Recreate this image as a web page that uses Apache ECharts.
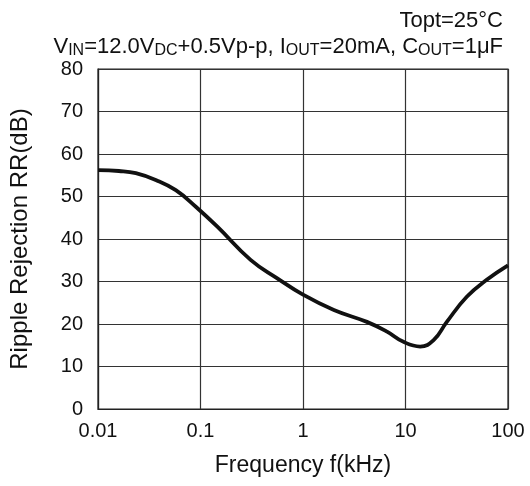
<!DOCTYPE html>
<html>
<head>
<meta charset="utf-8">
<script src="https://cdn.jsdelivr.net/npm/echarts@6/dist/echarts.min.js"></script>
<style>
  html, body { margin: 0; padding: 0; background: #fff; }
  #chart { width: 530px; height: 486px; }
</style>
</head>
<body>
<div id="chart"></div>
<script>
// Ripple rejection vs. frequency
const freqKHz = [0.01, 0.016, 0.0234, 0.0366, 0.0574, 0.09, 0.146, 0.308, 0.561, 1.0, 2.0, 4.2, 6.6, 9.55, 13.9, 18.8, 25.3, 39.6, 62, 100];
const rippleDb = [56.2, 56.0, 55.5, 53.9, 51.5, 47.6, 42.9, 35.1, 30.75, 26.9, 23.3, 20.5, 18.2, 15.8, 14.7, 16.2, 20.5, 26.4, 30.4, 33.8];
const xTicks = [0.01, 0.1, 1, 10, 100];
const yMin = 0, yMax = 80, yStep = 10;

const FONT = '"Liberation Sans", Arial, sans-serif';
const INK = '#111';

const chart = echarts.init(document.getElementById('chart'), null, { renderer: 'canvas' });

chart.setOption({
  animation: false,
  backgroundColor: '#fff',
  textStyle: { fontFamily: FONT, color: INK },
  title: [
    {
      text: 'Topt=25°C',
      right: 22, top: 5,
      textStyle: { fontSize: 22, fontWeight: 'normal', fontFamily: FONT, color: INK }
    },
    {
      text: '{n|V}{s|IN}{n|=12.0V}{s|DC}{n|+0.5Vp-p, I}{s|OUT}{n|=20mA, C}{s|OUT}{n|=1μF}',
      right: 22, top: 29,
      textStyle: {
        fontSize: 22, fontWeight: 'normal', fontFamily: FONT, color: INK,
        rich: {
          n: { fontSize: 22, fontFamily: FONT, color: INK, lineHeight: 26 },
          s: { fontSize: 16, fontFamily: FONT, color: INK, lineHeight: 18, verticalAlign: 'bottom', padding: [0, 0, 1, 0] }
        }
      }
    }
  ],
  grid: {
    left: 97, right: 22, top: 69, bottom: 77,
    show: true, borderColor: '#222', borderWidth: 1.2, backgroundColor: 'transparent'
  },
  xAxis: {
    type: 'log',
    logBase: 10,
    min: xTicks[0],
    max: xTicks[xTicks.length - 1],
    name: 'Frequency f(kHz)',
    nameLocation: 'middle',
    nameGap: 45,
    nameTextStyle: { fontSize: 23, fontFamily: FONT, color: INK },
    axisLine: { show: true, lineStyle: { color: '#222', width: 1.2 } },
    axisTick: { show: false },
    minorTick: { show: false },
    axisLabel: {
      fontSize: 20, fontFamily: FONT, color: INK, margin: 12,
      formatter: v => {
        const t = xTicks.find(k => Math.abs(Math.log10(k) - Math.log10(v)) < 1e-6);
        return t === undefined ? '' : String(t);
      }
    },
    splitLine: { show: true, lineStyle: { color: '#333', width: 1.2 } }
  },
  yAxis: {
    type: 'value',
    min: yMin, max: yMax, interval: yStep,
    name: 'Ripple Rejection RR(dB)',
    nameLocation: 'middle',
    nameGap: 66,
    nameTextStyle: { fontSize: 24, fontFamily: FONT, color: INK },
    axisLine: { show: true, lineStyle: { color: '#222', width: 1.2 } },
    axisTick: { show: false },
    axisLabel: { fontSize: 20, fontFamily: FONT, color: INK, margin: 15 },
    splitLine: { show: true, lineStyle: { color: '#333', width: 1.2 } }
  },
  series: [{
    type: 'line',
    data: freqKHz.map((f, i) => [f, rippleDb[i]]),
    smooth: 0.45,
    symbol: 'none',
    lineStyle: { color: '#111', width: 3.8 },
    z: 5
  }]
});
</script>
</body>
</html>
